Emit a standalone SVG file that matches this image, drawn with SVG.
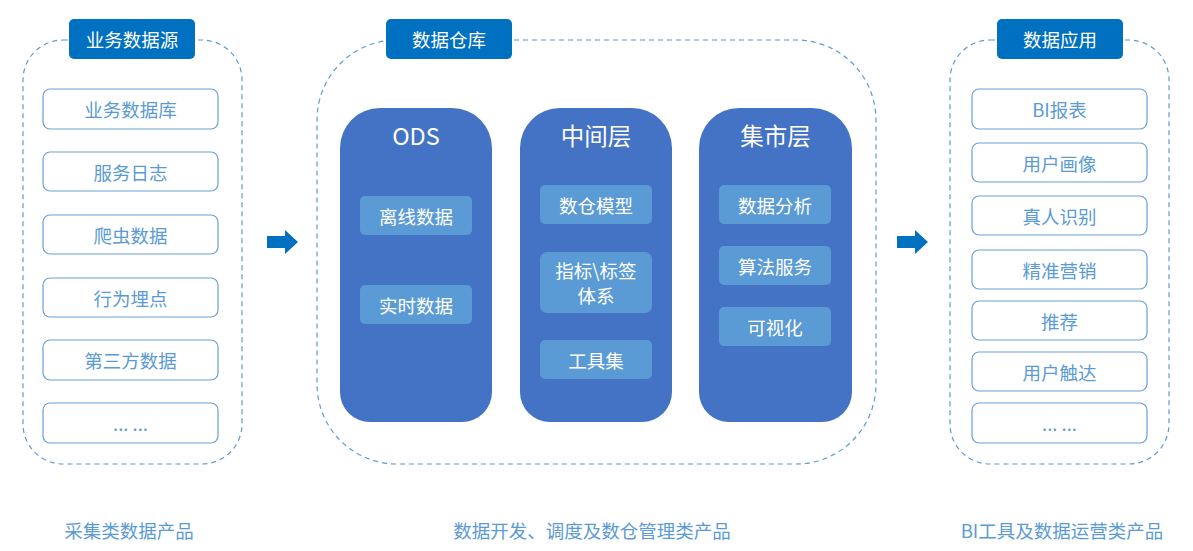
<svg xmlns="http://www.w3.org/2000/svg" width="1193" height="551" viewBox="0 0 1193 551">
<style>
.cont{fill:none;stroke:#5B9BD5;stroke-width:1.2;stroke-dasharray:5 4}
.tab{fill:#0070C0}
.tabt{fill:#fff;font-family:"Noto Sans CJK SC","Microsoft YaHei",sans-serif;font-size:18.5px;text-anchor:middle;dominant-baseline:central}
.item{fill:#fff;stroke:#6A9FD8;stroke-width:1.2}
.itemt{fill:#5B9BD5;font-family:"Noto Sans CJK SC",sans-serif;font-size:18.5px;text-anchor:middle;dominant-baseline:central}
.col{fill:#4472C4}
.colt{fill:#fff;font-family:"Noto Sans CJK SC",sans-serif;font-size:23.5px;text-anchor:middle;dominant-baseline:central}
.inner{fill:#5B9BD5}
.innert{fill:#fff;font-family:"Noto Sans CJK SC",sans-serif;font-size:18.5px;text-anchor:middle;dominant-baseline:central}
.foot{fill:#5B9BD5;font-family:"Noto Sans CJK SC",sans-serif;font-size:18.5px;text-anchor:middle;dominant-baseline:central}
.arrow{fill:#0070C0}
</style>
<rect width="1193" height="551" fill="#fff"/>
<g id="source">
<rect class="cont" x="23" y="40" width="219" height="424" rx="40"/>
<rect class="tab" x="69" y="19" width="126" height="40" rx="5"/>
<text class="tabt" x="132" y="39">业务数据源</text>
<rect class="item" x="43" y="89" width="175" height="40" rx="7"/><text class="itemt" x="130.5" y="109">业务数据库</text>
<rect class="item" x="43" y="152" width="175" height="39" rx="7"/><text class="itemt" x="130.5" y="171.5">服务日志</text>
<rect class="item" x="43" y="215" width="175" height="39" rx="7"/><text class="itemt" x="130.5" y="234.5">爬虫数据</text>
<rect class="item" x="43" y="278" width="175" height="39" rx="7"/><text class="itemt" x="130.5" y="297.5">行为埋点</text>
<rect class="item" x="43" y="340" width="175" height="40" rx="7"/><text class="itemt" x="130.5" y="360">第三方数据</text>
<rect class="item" x="43" y="403" width="175" height="40" rx="7"/><text class="itemt" x="130.5" y="423">... ...</text>
</g>
<g id="warehouse">
<rect class="cont" x="317" y="40" width="559" height="424" rx="80"/>
<rect class="tab" x="386" y="19" width="126" height="40" rx="5"/>
<text class="tabt" x="449" y="39">数据仓库</text>
</g>
<g id="ods">
<path class="col" d="M340,422 V148 A40,40 0 0 1 380,108 H452 A40,40 0 0 1 492,148 V392 A30,30 0 0 1 462,422 H370 A30,30 0 0 1 340,392 Z"/>
<text class="colt" x="416" y="135">ODS</text>
<rect class="inner" x="360" y="196" width="112" height="39" rx="5"/><text class="innert" x="416" y="215.5">离线数据</text>
<rect class="inner" x="360" y="285" width="112" height="39" rx="5"/><text class="innert" x="416" y="304.5">实时数据</text>
</g>
<g id="middle">
<path class="col" d="M520,422 V148 A40,40 0 0 1 560,108 H632 A40,40 0 0 1 672,148 V392 A30,30 0 0 1 642,422 H550 A30,30 0 0 1 520,392 Z"/>
<text class="colt" x="596" y="135">中间层</text>
<rect class="inner" x="540" y="185" width="112" height="39" rx="5"/><text class="innert" x="596" y="204.5">数仓模型</text>
<rect class="inner" x="540" y="252" width="112" height="61" rx="7"/><text class="innert" x="596" y="270">指标\标签</text><text class="innert" x="596" y="294.5">体系</text>
<rect class="inner" x="540" y="340" width="112" height="39" rx="5"/><text class="innert" x="596" y="359.5">工具集</text>
</g>
<g id="mart">
<path class="col" d="M699,422 V148 A40,40 0 0 1 739,108 H812 A40,40 0 0 1 852,148 V392 A30,30 0 0 1 822,422 H729 A30,30 0 0 1 699,392 Z"/>
<text class="colt" x="775.5" y="135">集市层</text>
<rect class="inner" x="719" y="185" width="112" height="39" rx="5"/><text class="innert" x="775" y="204.5">数据分析</text>
<rect class="inner" x="719" y="246" width="112" height="39" rx="5"/><text class="innert" x="775" y="265.5">算法服务</text>
<rect class="inner" x="719" y="307" width="112" height="39" rx="5"/><text class="innert" x="775" y="326.5">可视化</text>
</g>
<g id="apps">
<rect class="cont" x="950" y="40" width="219" height="424" rx="40"/>
<rect class="tab" x="997" y="19" width="126" height="40" rx="5"/>
<text class="tabt" x="1060" y="39">数据应用</text>
<rect class="item" x="972" y="89" width="175" height="40" rx="7"/><text class="itemt" x="1059.5" y="109">BI报表</text>
<rect class="item" x="972" y="143" width="175" height="39" rx="7"/><text class="itemt" x="1059.5" y="162.5">用户画像</text>
<rect class="item" x="972" y="196" width="175" height="39" rx="7"/><text class="itemt" x="1059.5" y="215.5">真人识别</text>
<rect class="item" x="972" y="250" width="175" height="39" rx="7"/><text class="itemt" x="1059.5" y="269.5">精准营销</text>
<rect class="item" x="972" y="301" width="175" height="39" rx="7"/><text class="itemt" x="1059.5" y="320.5">推荐</text>
<rect class="item" x="972" y="352" width="175" height="39" rx="7"/><text class="itemt" x="1059.5" y="371.5">用户触达</text>
<rect class="item" x="972" y="403" width="175" height="40" rx="7"/><text class="itemt" x="1059.5" y="423">... ...</text>
</g>
<g id="connectors">
<polygon class="arrow" points="267,236 285,236 285,230 298,242 285,254 285,248 267,248"/>
<polygon class="arrow" points="897,236 915,236 915,230 928,242 915,254 915,248 897,248"/>
</g>
<g id="footers">
<text class="foot" x="129" y="530">采集类数据产品</text>
<text class="foot" x="592" y="530">数据开发、调度及数仓管理类产品</text>
<text class="foot" x="1062" y="530">BI工具及数据运营类产品</text>
</g>
</svg>
